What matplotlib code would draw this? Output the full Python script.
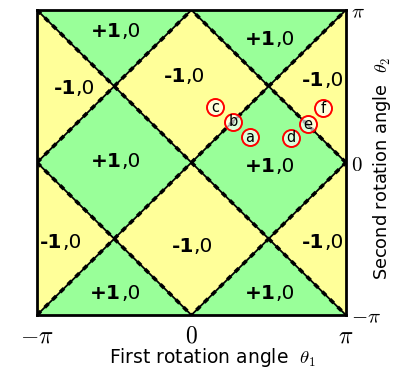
import numpy as np
import matplotlib
matplotlib.use("Agg")
import matplotlib.pyplot as plt
from matplotlib.patches import Polygon

plt.rcParams["mathtext.fontset"] = "cm"

# --- region centres (in units of pi) and their sign ---
green_centres = [(-0.5, 0), (0.5, 0), (-0.5, 1), (0.5, 1), (-0.5, -1), (0.5, -1)]
yellow_centres = [(0, 0.5), (0, -0.5), (-1, 0.5), (-1, -0.5), (1, 0.5), (1, -0.5)]

# --- boundary lines y = s*x + c (c in units of pi) ---
line_slopes = [1, 1, 1, -1, -1, -1]
line_offsets = [-1, 0, 1, -1, 0, 1]

# --- region labels: x, y (units of pi), bold part ---
label_x = [-0.450, 0.547, -0.748, -0.036, 0.858, -0.450, 0.547, -0.838, 0.016, 0.858, -0.456, 0.547]
label_y = [0.821, 0.770, 0.449, 0.528, 0.502, -0.030, -0.062, -0.561, -0.585, -0.561, -0.895, -0.895]
label_sign = ["+1", "+1", "-1", "-1", "-1", "+1", "+1", "-1", "-1", "-1", "+1", "+1"]

# --- marked points a-f (units of pi) ---
pt_names = ["a", "b", "c", "d", "e", "f"]
pt_x = [0.379, 0.269, 0.152, 0.644, 0.754, 0.851]
pt_y = [0.167, 0.266, 0.364, 0.161, 0.252, 0.357]

fig = plt.figure(figsize=(3.93, 3.70), dpi=100)
ax = fig.add_axes([0.0941, 0.1486, 0.786, 0.8243])

pi = np.pi
h = 0.5 * pi


def diamond(cx, cy, color):
    cx, cy = cx * pi, cy * pi
    verts = [(cx - h, cy), (cx, cy + h), (cx + h, cy), (cx, cy - h)]
    ax.add_patch(Polygon(verts, closed=True, facecolor=color, edgecolor="none", zorder=1))


for cx, cy in green_centres:
    diamond(cx, cy, "#99ff99")
for cx, cy in yellow_centres:
    diamond(cx, cy, "#ffff99")

xs = np.array([-pi, pi])
for s, c in zip(line_slopes, line_offsets):
    ys = s * xs + c * pi
    ax.plot(xs, ys, color="black", lw=1.3, zorder=2)
    ax.plot(xs, ys, color="black", lw=2.6, ls=(0, (1.5, 1.5)), zorder=2)

for x, y, sgn in zip(label_x, label_y, label_sign):
    ax.text(x * pi, y * pi, sgn, fontsize=14.5, fontweight="bold", ha="right", va="baseline", zorder=4)
    ax.text(x * pi, y * pi, ",0", fontsize=14.5, ha="left", va="baseline", zorder=4)

ax.scatter(np.array(pt_x) * pi, np.array(pt_y) * pi, s=150, facecolor=(1, 1, 1, 0.65),
           edgecolor="red", linewidth=1.4, zorder=5)
for n, x, y in zip(pt_names, pt_x, pt_y):
    ax.text(x * pi, y * pi, n, fontsize=10.5, ha="center", va="center", zorder=6)

ax.set_xlim(-pi, pi)
ax.set_ylim(-pi, pi)
ax.set_xticks([-pi, 0, pi])
ax.set_xticklabels([r"$-\pi$", r"$0$", r"$\pi$"], fontsize=17)
ax.set_yticks([-pi, 0, pi])
ax.set_yticklabels([r"$-\pi$", r"$0$", r"$\pi$"], fontsize=15)
ax.yaxis.tick_right()
ax.tick_params(axis="x", length=0, pad=6)
ax.tick_params(axis="y", length=0, pad=4)
for sp in ax.spines.values():
    sp.set_linewidth(2)

ax.set_xlabel(r"First rotation angle  $\theta_1$", fontsize=13.5)
ax.set_ylabel(r"Second rotation angle  $\theta_2$", fontsize=12.8)
ax.xaxis.label.set_va("center")
ax.xaxis.set_label_coords(0.568, -0.14)
ax.yaxis.label.set_ha("center")
ax.yaxis.label.set_va("center")
ax.yaxis.set_label_coords(1.117, 0.479)

fig.savefig("out.png", dpi=100)
